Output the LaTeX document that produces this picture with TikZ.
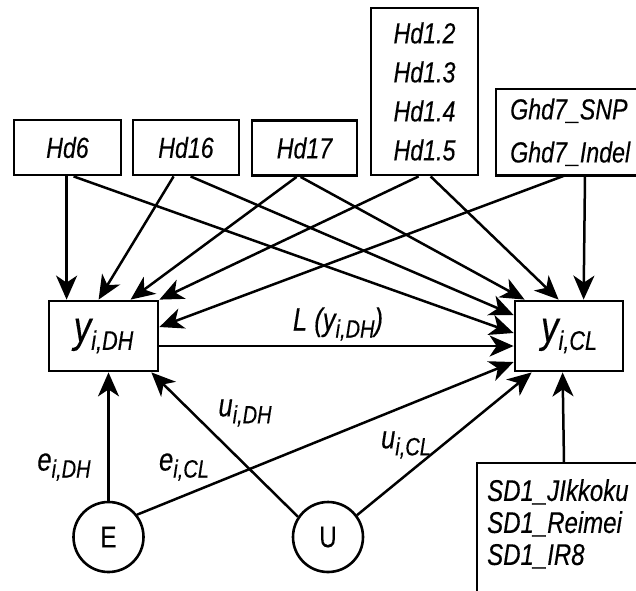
\documentclass[tikz,border=0pt]{standalone}
\usepackage{fontspec}
\setmainfont{Liberation Sans}[FakeStretch=0.8,FakeBold=0.3]
\usetikzlibrary{arrows.meta,calc}
\newcommand{\yvar}[1]{{\fontsize{44}{44}\selectfont\itshape y}\raisebox{-8pt}{\fontsize{27}{27}\selectfont\itshape #1}}
\newcommand{\svar}[2]{{\fontsize{32}{32}\selectfont\itshape #1}\raisebox{-7pt}{\fontsize{25}{25}\selectfont\itshape #2}}
\begin{document}
\begin{tikzpicture}[x=1pt,y=-1pt,
  box/.style={draw, line width=2.8pt, inner sep=0pt, font=\fontsize{29}{39}\selectfont\itshape},
  openbox/.style={inner sep=0pt, font=\fontsize{29}{39}\selectfont\itshape},
  arr/.style={-{Stealth[length=24pt,width=21pt,inset=7pt]}, line width=2.5pt},
  circ/.style={draw, circle, line width=2.6pt, minimum size=70pt, inner sep=0pt, font=\fontsize{30}{30}\selectfont},
  lab/.style={inner sep=0pt}]
\useasboundingbox (0,0) rectangle (636,590);
% top boxes
\node[box, minimum width=107pt, minimum height=55pt] (hd6) at (67.5,147.5) {Hd6};
\node[box, minimum width=106pt, minimum height=55pt] (hd16) at (186,147.5) {Hd16};
\node[box, minimum width=105pt, minimum height=55pt] (hd17) at (304.5,148) {Hd17};
\node[box, minimum width=107pt, minimum height=167pt, align=center] (hd1) at (424.5,91.5) {Hd1.2\\Hd1.3\\Hd1.4\\Hd1.5};
\node[openbox, anchor=north west, align=left, text width=130pt, inner xsep=14pt, inner ysep=8pt, minimum height=86pt, font=\fontsize{29}{43}\selectfont\itshape] (ghd7) at (496,89) {Ghd7\_SNP\\Ghd7\_Indel};
\draw[line width=2.8pt] (ghd7.north east) -- (ghd7.north west) -- (ghd7.south west) -- (ghd7.south east);
% trait boxes
\node[box, minimum width=109pt, minimum height=70pt] (dh) at (103.5,336) {\yvar{i,DH}};
\node[box, minimum width=108pt, minimum height=70pt] (cl) at (569,336) {\yvar{i,CL}};
% bottom
\node[circ] (e) at (108.5,537) {E};
\node[circ] (u) at (328,537) {U};
\node[openbox, anchor=north west, align=left, text width=150pt, inner xsep=10pt, inner ysep=16pt, font=\fontsize{30}{32}\selectfont\itshape] (sd1) at (477,463) {SD1\_JIkkoku\\SD1\_Reimei\\SD1\_IR8};
\draw[line width=2.8pt] (sd1.north east) -- (sd1.north west) -- ([yshift=-20pt]sd1.south west);
% connectors from top boxes
\draw[arr] ([xshift=54pt]hd6.south west) -- ([xshift=19pt]dh.north west);
\draw[arr] ([xshift=61pt]hd6.south west) -- ([yshift=3pt]cl.west);
\draw[arr] ([xshift=42pt]hd16.south west) -- ([xshift=51pt]dh.north west);
\draw[arr] ([xshift=59pt]hd16.south west) -- ([yshift=21pt]cl.west);
\draw[arr] ([xshift=46pt]hd17.south west) -- ([xshift=83pt]dh.north west);
\draw[arr] ([xshift=50pt]hd17.south west) -- ([xshift=11pt]cl.north west);
\draw[arr] ([xshift=49pt]hd1.south west) -- (dh.north east);
\draw[arr] ([xshift=61pt]hd1.south west) -- ([xshift=45pt]cl.north west);
\draw[arr] ([xshift=69pt]ghd7.south west) -- ([yshift=9pt]dh.east);
\draw[arr] ([xshift=89pt]ghd7.south west) -- ([xshift=70pt]cl.north west);
% between traits
\draw[arr] ([yshift=-10pt]dh.east) -- ([yshift=-10pt]cl.west);
% from bottom
\draw[arr] (e.north) -- (e.north |- dh.south);
\draw[arr] (e.38) -- ([yshift=-26pt]cl.west);
\draw[arr] (u.146) -- ([xshift=-8pt]dh.south east);
\draw[arr] (u.37) -- ([xshift=18pt]cl.south west);
\draw[arr] ([xshift=87pt]sd1.north west) -- ([xshift=49pt]cl.south west);
% labels
\node[lab] (lL) at (338,324) {{\fontsize{32}{32}\selectfont\itshape L (}\svar{y}{i,DH}{\fontsize{32}{32}\selectfont\itshape )}};
\node[lab] (ludh) at (245,413) {\svar{u}{i,DH}};
\node[lab] (lucl) at (406,445) {\svar{u}{i,CL}};
\node[lab] (ledh) at (64,467) {\svar{e}{i,DH}};
\node[lab] (lecl) at (184,467) {\svar{e}{i,CL}};
\end{tikzpicture}
\end{document}
